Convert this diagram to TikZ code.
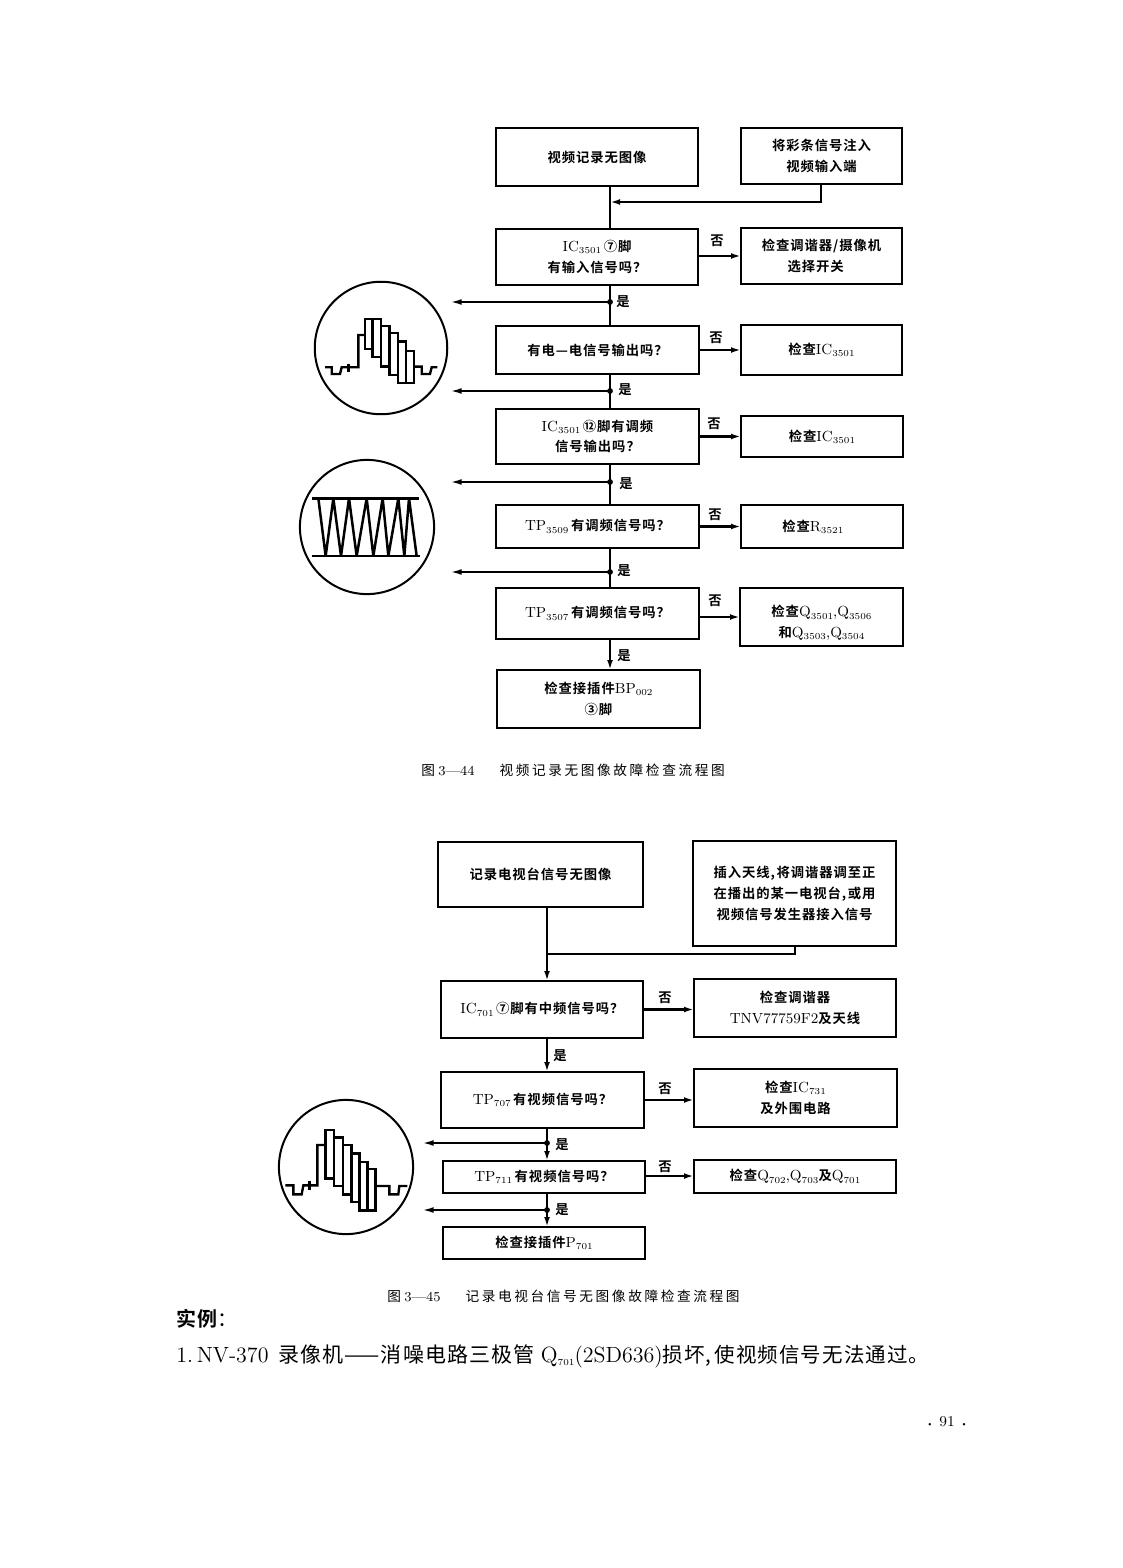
\documentclass[tikz,border=0pt]{standalone}
\usepackage{fontspec}
\usetikzlibrary{arrows.meta,calc}
\newfontfamily\cjk[BoldFont={Noto Sans CJK SC Bold},LetterSpace=7]{Noto Sans CJK SC}
\newfontfamily\cjkcap[LetterSpace=19]{Noto Sans CJK SC}
\newfontfamily\cjkbig[BoldFont={Noto Sans CJK SC Bold},LetterSpace=5]{Noto Sans CJK SC}
\newcommand\zh[1]{{\fontsize{8}{12.5}\selectfont\cjk\bfseries #1}}
\newcommand\lowsub[1]{\raisebox{-0.35ex}{\fontsize{5.5}{5}\selectfont\addfontfeatures{LetterSpace=14}#1}}
\newcommand\bx[6]{%
  \pgfmathsetmacro\bw{0.6*(#4-#2)}\pgfmathsetmacro\bh{0.6*(#5-#3)}%
  \pgfmathsetmacro\bcx{(#2+#4)/2}\pgfmathsetmacro\bcy{(#3+#5)/2}%
  \node[fbox,minimum width=\bw pt,minimum height=\bh pt] (#1) at (\bcx,\bcy) {#6};}
\tikzset{
  fbox/.style={draw=black,line width=1.5pt,inner sep=0pt,outer sep=0pt,align=center,font=\fontsize{8.8}{12.5}\selectfont\addfontfeatures{LetterSpace=12}},
  flow/.style={line width=1.5pt,draw=black},
  arr/.style={flow,-{Latex[length=6pt,width=3.5pt]}},
  thin arr/.style={line width=1.2pt,draw=black,-{Latex[length=7pt,width=3.5pt]}},
  lab/.style={inner sep=0pt,font=\fontsize{8}{9}\selectfont},
  wave/.style={line width=1.4pt,draw=black,line join=miter},
  zig/.style={line width=1.5pt,draw=black,line join=bevel},
  ring/.style={circle,draw=black,line width=1.2pt,inner sep=0pt,fill=none},
  jdot/.style={circle,fill=black,inner sep=0pt,minimum size=3.5pt},
  captext/.style={inner sep=0pt,anchor=west,font=\fontsize{8.2}{10}\selectfont\addfontfeatures{LetterSpace=14}},
}
\begin{document}
\begin{tikzpicture}[x=0.6pt,y=-0.6pt]
\useasboundingbox (0,0) rectangle (1122,1568);
% upper chart
\bx{a1}{496}{128}{698}{186}{\zh{视频记录无图像}}
\bx{a2}{741}{128}{902}{184}{\zh{将彩条信号注入}\\\zh{视频输入端}}
\bx{b1}{496}{229}{698}{285}{IC\lowsub{3501}\,\zh{⑦脚}\\\zh{有输入信号吗？}}
\bx{b2}{741}{228}{902}{284}{\zh{检查调谐器/摄像机}\\\zh{选择开关}\hspace*{7pt}}
\bx{c1}{496}{326}{699}{374}{\zh{有电—电信号输出吗？}}
\bx{c2}{741}{325}{902}{375}{\zh{检查}IC\lowsub{3501}}
\bx{d1}{496}{409}{699}{464}{IC\lowsub{3501}\,\zh{⑫脚有调频}\\\zh{信号输出吗？}}
\bx{d2}{741}{416}{903}{457}{\zh{检查}IC\lowsub{3501}}
\bx{e1}{496}{505}{699}{548}{TP\lowsub{3509}\,\zh{有调频信号吗？}}
\bx{e2}{741}{505}{903}{548}{\zh{检查}R\lowsub{3521}\hspace*{11pt}}
\bx{f1}{496}{588}{699}{639}{TP\lowsub{3507}\,\zh{有调频信号吗？}}
\bx{f2}{740}{588}{903}{646}{\rule{0pt}{14pt}\zh{检查}Q\lowsub{3501},Q\lowsub{3506}\\\zh{和}Q\lowsub{3503},Q\lowsub{3504}}
\bx{g1}{497}{670}{700}{728}{\zh{检查接插件}BP\lowsub{002}\\\zh{③脚}}
\coordinate (tr1) at (610,0);
\coordinate (m1) at (610,202);
\draw[flow] (a1.south -| tr1) -- (b1.north -| tr1);
\draw[arr] (a2.south -| 821,0) |- (m1);
\draw[arr] (b1.east |- b2.west) -- (b2.west);
\draw[arr] (c1.east) -- (c2.west);
\draw[arr] (d1.east |- d2.west) -- (d2.west);
\draw[arr] (e1.east) -- (e2.west);
\draw[arr] (f1.east |- 0,617) -- (f2.west |- 0,617);
\foreach \p/\q/\y/\n in {b1/c1/302/j1,c1/d1/391/j2,d1/e1/482/j3,e1/f1/572/j4}{
  \coordinate (\n) at (610,\y);
  \draw[flow] (\p.south -| tr1) -- (\q.north -| tr1);
  \node[jdot] (\n d) at (\n) {};
  \coordinate (\n e) at (450,\y);
  \draw[thin arr] (\n d.center) -- (\n e);
}
\draw[arr] (f1.south -| tr1) -- (g1.north -| tr1);
\node[lab] (l1) at (717,241) {\zh{否}};
\node[lab] (l2) at (716,338) {\zh{否}};
\node[lab] (l3) at (714,424) {\zh{否}};
\node[lab] (l4) at (715,515) {\zh{否}};
\node[lab] (l5) at (715,601) {\zh{否}};
\node[lab] (l6) at (623,302) {\zh{是}};
\node[lab] (l7) at (625,390) {\zh{是}};
\node[lab] (l8) at (626,484) {\zh{是}};
\node[lab] (l9) at (624,571) {\zh{是}};
\node[lab] (l10) at (624,656) {\zh{是}};
\node[captext] (cap1) at (421,770) {{\cjkcap 图}\hspace{2pt}3—44\hspace{15pt}{\cjkcap 视频记录无图像故障检查流程图}};
% lower chart
\bx{h1}{438}{842}{643}{907}{\zh{记录电视台信号无图像}}
\bx{h2}{693}{841}{896}{946}{\zh{插入天线,\hspace{1pt}将调谐器调至正}\\\zh{在播出的某一电视台,\hspace{1pt}或用}\\\zh{视频信号发生器接入信号}}
\bx{i1}{441}{981}{643}{1038}{IC\lowsub{701}\,\zh{⑦脚有中频信号吗？}}
\bx{i2}{694}{979}{896}{1037}{\zh{检查调谐器}\\TNV77759F2\zh{及天线}}
\bx{k1}{441}{1072}{644}{1128}{TP\lowsub{707}\,\zh{有视频信号吗？}}
\bx{k2}{694}{1069}{897}{1127}{\zh{检查}IC\lowsub{731}\\\zh{及外围电路}}
\bx{m1b}{443}{1161}{645}{1193}{TP\lowsub{711}\,\zh{有视频信号吗？}}
\bx{m2}{694}{1160}{896}{1193}{\zh{检查}Q\lowsub{702},Q\lowsub{703}\zh{及}Q\lowsub{701}}
\bx{n1}{443}{1227}{645}{1259}{\zh{检查接插件}P\lowsub{701}}
\coordinate (tr2) at (547,0);
\coordinate (m2j) at (547,954);
\draw[flow] (h1.south -| tr2) -- (m2j);
\draw[arr] (m2j) -- (i1.north -| tr2);
\draw[flow] (h2.south -| 795,0) |- (m2j);
\draw[arr] (i1.east) -- (i2.west |- i1.east);
\draw[arr] (k1.east) -- (k2.west |- k1.east);
\draw[arr] (m1b.east |- 0,1176) -- (m2.west |- 0,1176);
\draw[arr] (i1.south -| tr2) -- (k1.north -| tr2);
\foreach \p/\q/\y/\n in {k1/m1b/1143/j5,m1b/n1/1210/j6}{
  \coordinate (\n) at (547,\y);
  \draw[arr] (\p.south -| tr2) -- (\q.north -| tr2);
  \node[jdot] (\n d) at (\n) {};
  \coordinate (\n e) at (422,\y);
  \draw[thin arr] (\n d.center) -- (\n e);
}
\node[lab] (l11) at (665,998) {\zh{否}};
\node[lab] (l12) at (665,1089) {\zh{否}};
\node[lab] (l13) at (665,1167) {\zh{否}};
\node[lab] (l14) at (560,1056) {\zh{是}};
\node[lab] (l15) at (562,1145) {\zh{是}};
\node[lab] (l16) at (562,1210) {\zh{是}};
\node[captext] (cap2) at (387,1296) {{\cjkcap 图}\hspace{2pt}3—45\hspace{15pt}{\cjkcap 记录电视台信号无图像故障检查流程图}};
% circles
\node[ring,minimum size=79.5pt] (c1r) at (381,348) {};
\node[ring,minimum size=80.5pt] (c2r) at (367,527) {};
\node[ring,minimum size=80.5pt] (c3r) at (346,1167) {};
% waveform 1
\begin{scope}[shift={(290,270)},x=0.2pt,y=-0.2pt]
\draw[wave] (105,292) -- (125,292) -- (125,312) -- (150,312) -- (155,292) -- (205,292) -- (205,195) -- (225,195);
\draw[wave] (175,282) -- (175,305);
\draw[wave] (225,147) rectangle (247,238);
\draw[wave] (247,147) rectangle (272,262);
\draw[wave] (272,168) rectangle (298,290);
\draw[wave] (298,190) rectangle (323,315);
\draw[wave] (323,215) rectangle (348,340);
\draw[wave] (348,243) rectangle (372,340);
\draw[wave] (372,290) -- (395,290) -- (395,312) -- (420,312) -- (425,292) -- (442,292);
\end{scope}
% waveform 2
\begin{scope}[shift={(305,485)},x=0.2pt,y=-0.2pt]
\draw[zig] (22,40) -- (342,40);
\draw[zig] (20,213) -- (345,213);
\draw[zig] (40,40) -- (62,213) -- (85,40) -- (108,213) -- (132,40) -- (155,213) -- (185,40) -- (205,213) -- (233,40) -- (250,213) -- (280,40) -- (298,213) -- (312,40) -- (335,213);
\end{scope}
% waveform 3
\begin{scope}[shift={(260,1100)},x=0.2pt,y=-0.2pt]
\draw[wave] (76,256) -- (100,256) -- (100,283) -- (125,283) -- (130,256) -- (172,256) -- (172,135) -- (196,135);
\draw[wave] (148,242) -- (148,270);
\draw[wave] (196,90) rectangle (222,235);
\draw[wave] (222,112) rectangle (248,258);
\draw[wave] (248,135) rectangle (274,283);
\draw[wave] (274,160) rectangle (298,306);
\draw[wave] (298,185) rectangle (322,331);
\draw[wave] (322,207) rectangle (346,331);
\draw[wave] (346,258) -- (388,258) -- (388,283) -- (415,283) -- (418,258) -- (442,258);
\end{scope}
% page text
\node[inner sep=0pt,anchor=west,font=\fontsize{12}{14}\selectfont] (ex) at (176,1319) {{\cjkbig\bfseries 实例}{\cjkbig ：}};
\node[inner sep=0pt,anchor=west,font=\fontsize{13.2}{15}\selectfont\addfontfeatures{LetterSpace=11}] (line) at (176,1356) {1.\,NV-370\hspace{6pt}{\fontsize{12.6}{15}\selectfont\cjkbig 录像机——消噪电路三极管}\hspace{4pt}Q\lowsub{701}(2SD636){\fontsize{12.3}{15}\selectfont\cjkbig 损坏,\hspace{2pt}使视频信号无法通过。}};
\node[inner sep=0pt,font=\fontsize{9}{11}\selectfont\addfontfeatures{LetterSpace=8}] (pg) at (947,1422) {{\fontsize{5}{5}\selectfont\textbullet}\ 91\ {\fontsize{5}{5}\selectfont\textbullet}};
\end{tikzpicture}
\end{document}
